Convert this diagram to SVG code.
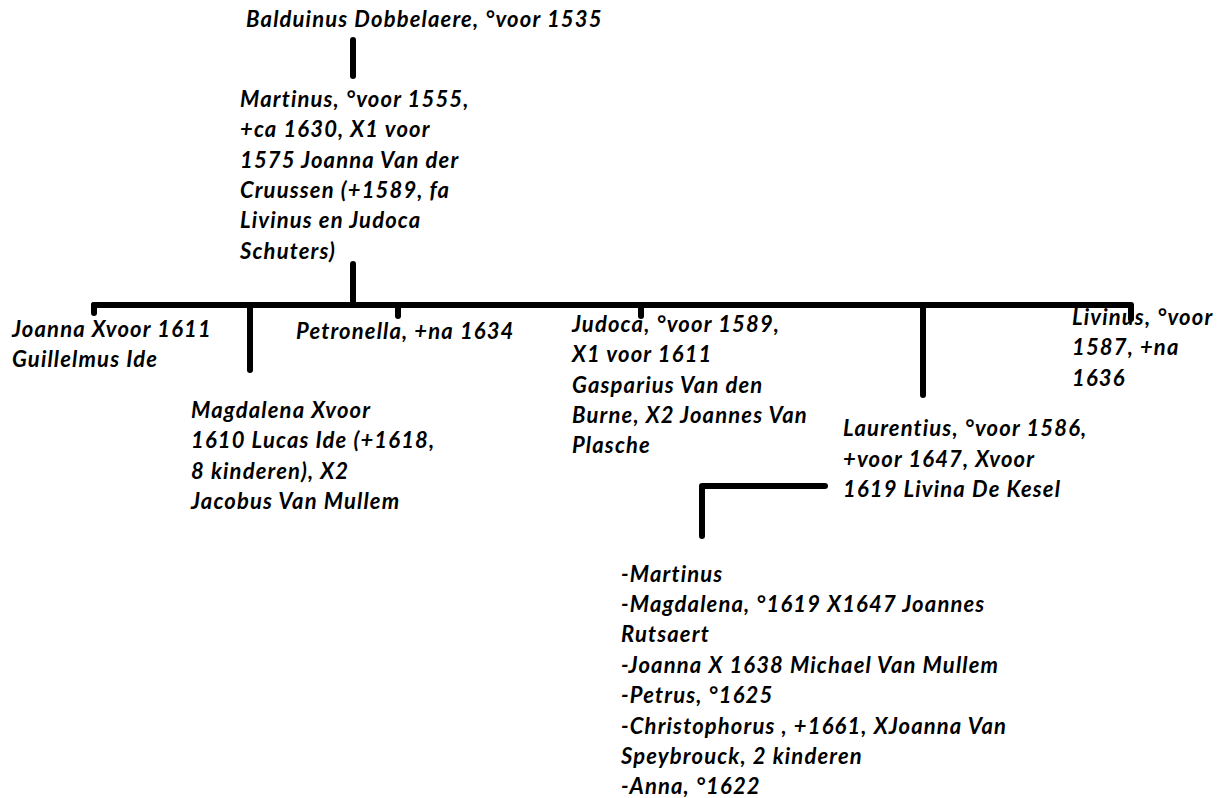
<svg xmlns="http://www.w3.org/2000/svg" width="1222" height="798" viewBox="0 0 1222 798">
<style>
text{font-family:Lato,"Open Sans","Liberation Sans",sans-serif;font-weight:bold;font-style:italic;font-size:22px;letter-spacing:1.15px;fill:#000}
.c{stroke:#000;stroke-width:6;stroke-linecap:round;stroke-linejoin:round;fill:none}
</style>
<rect width="1222" height="798" fill="#fff"/>
<g id="connectors">
<line class="c" x1="353" y1="40" x2="353" y2="76"/>
<line class="c" x1="353" y1="264" x2="353" y2="303"/>
<line class="c" x1="94" y1="305" x2="1130" y2="305"/>
<line class="c" x1="94" y1="305" x2="94" y2="313"/>
<line class="c" x1="250" y1="305" x2="250" y2="370"/>
<line class="c" x1="398" y1="305" x2="398" y2="316"/>
<line class="c" x1="641" y1="305" x2="641" y2="316"/>
<line class="c" x1="923" y1="305" x2="923" y2="395"/>
<line class="c" x1="1131" y1="305" x2="1131" y2="319"/>
<path class="c" d="M825 486H702V536"/>
</g>
<g id="balduinus"><text x="246" y="27">Balduinus Dobbelaere, °voor 1535</text></g>
<g id="martinus">
<text x="240" y="107">Martinus, °voor 1555,</text>
<text x="240" y="137.3">+ca 1630, X1 voor</text>
<text x="240" y="167.6">1575 Joanna Van der</text>
<text x="240" y="197.9">Cruussen (+1589, fa</text>
<text x="240" y="228.2">Livinus en Judoca</text>
<text x="240" y="258.5">Schuters)</text>
</g>
<g id="joanna">
<text x="12" y="337">Joanna Xvoor 1611</text>
<text x="12" y="367">Guillelmus Ide</text>
</g>
<g id="petronella"><text x="296" y="339">Petronella, +na 1634</text></g>
<g id="magdalena">
<text x="191" y="418">Magdalena Xvoor</text>
<text x="191" y="448.3">1610 Lucas Ide (+1618,</text>
<text x="191" y="478.6">8 kinderen), X2</text>
<text x="191" y="508.9">Jacobus Van Mullem</text>
</g>
<g id="judoca">
<text x="572" y="332">Judoca, °voor 1589,</text>
<text x="572" y="362.3">X1 voor 1611</text>
<text x="572" y="392.6">Gasparius Van den</text>
<text x="572" y="422.9">Burne, X2 Joannes Van</text>
<text x="572" y="453.2">Plasche</text>
</g>
<g id="laurentius">
<text x="843" y="436.4">Laurentius, °voor 1586,</text>
<text x="843" y="466.7">+voor 1647, Xvoor</text>
<text x="843" y="497">1619 Livina De Kesel</text>
</g>
<g id="livinus">
<text x="1072" y="325">Livinus, °voor</text>
<text x="1072" y="355.3">1587, +na</text>
<text x="1072" y="385.6">1636</text>
</g>
<g id="children">
<text x="621" y="581.5">-Martinus</text>
<text x="621" y="611.9">-Magdalena, °1619 X1647 Joannes</text>
<text x="621" y="642.3">Rutsaert</text>
<text x="621" y="672.7">-Joanna X 1638 Michael Van Mullem</text>
<text x="621" y="703.1">-Petrus, °1625</text>
<text x="621" y="733.5">-Christophorus , +1661, XJoanna Van</text>
<text x="621" y="763.9">Speybrouck, 2 kinderen</text>
<text x="621" y="794.3">-Anna, °1622</text>
</g>
</svg>
